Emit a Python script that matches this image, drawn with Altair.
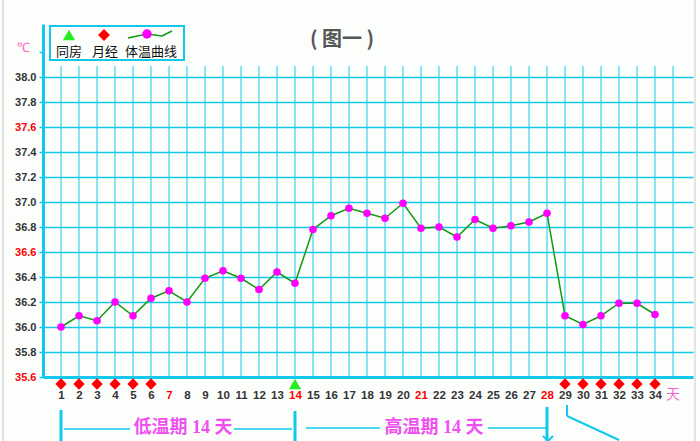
import altair as alt
import pandas as pd

# ---------------- data ----------------
days = list(range(1, 35))
temps = [36.00, 36.09, 36.05, 36.20, 36.09, 36.23, 36.29, 36.20, 36.39, 36.45,
         36.39, 36.30, 36.44, 36.35, 36.78, 36.89, 36.95, 36.91, 36.87, 36.99,
         36.79, 36.80, 36.72, 36.86, 36.79, 36.81, 36.84, 36.91, 36.09, 36.02,
         36.09, 36.19, 36.19, 36.10]
period_days = [1, 2, 3, 4, 5, 6, 29, 30, 31, 32, 33, 34]
intercourse_days = [14]
x_label_days = list(range(1, 36))
red_days = [7, 14, 21, 28]
y_ticks = [35.6, 35.8, 36.0, 36.2, 36.4, 36.6, 36.8, 37.0, 37.2, 37.4, 37.6, 37.8, 38.0, 38.2]
red_temps = [35.6, 36.6, 37.6]
legend_labels = ["同房", "月经", "体温曲线"]
title_text = "( 图一 )"
phase_labels = ["低温期 14 天", "高温期 14 天"]
unit_day = "天"
unit_temp = "℃"

# ---------------- styles ----------------
CYAN = "#14c8ec"
GREEN_LINE = "#119911"
MAGENTA = "#ff00ff"
RED = "#ff0000"
TRI_GREEN = "#22ee22"
PINK = "#ff66cc"
PHASE = "#f050f0"
DARK = "#333333"
BG = "#fcfefc"

W, H = 650, 353
xs = alt.Scale(domain=[0, 650 / 18], nice=False, zero=False)
ys = alt.Scale(domain=[35.6, 35.6 + 2.4 * H / 300], nice=False, zero=False)

one = pd.DataFrame({"k": [0]})
temp_df = pd.DataFrame({"day": days, "temp": temps})
grid_df = pd.DataFrame({"day": x_label_days})
period_df = pd.DataFrame({"day": period_days, "temp": [35.6] * len(period_days)})
sex_df = pd.DataFrame({"day": intercourse_days, "temp": [35.6] * len(intercourse_days)})

red_temp_test = " || ".join(f"abs(datum.value - {t}) < 0.01" for t in red_temps)
red_day_test = " || ".join(f"datum.value == {d}" for d in red_days)

y_axis = alt.Axis(
    values=y_ticks,
    title=None,
    labelExpr="datum.value > 38.1 ? '' : format(datum.value, '.1f')",
    labelColor={"condition": {"test": red_temp_test, "value": RED}, "value": DARK},
    labelFontSize=11,
    labelFont="Liberation Sans",
    labelFontWeight="bold",
    labelPadding=3,
    labelOverlap=False,
    labelFlush=False,
    tickSize=4,
    tickColor=CYAN,
    tickWidth=1.5,
    domainColor=CYAN,
    domainWidth=3,
    grid=True,
    gridColor=CYAN,
    gridWidth=1.5,
    gridOpacity={"condition": {"test": "datum.value > 38.1", "value": 0}, "value": 1},
)

x_axis = alt.Axis(
    values=x_label_days,
    title=None,
    labelExpr="datum.value == 35 ? '' : datum.label",
    labelColor={"condition": {"test": red_day_test, "value": RED}, "value": DARK},
    labelFontSize=11.5,
    labelFont="Liberation Sans",
    labelFontWeight="bold",
    labelPadding=12,
    labelFlush=False,
    labelOverlap=False,
    ticks=False,
    tickSize=0,
    domainColor=CYAN,
    domainWidth=3,
    grid=False,
)

X = alt.X("day:Q", scale=xs, axis=x_axis)
Y = alt.Y("temp:Q", scale=ys, axis=y_axis)

# vertical grid lines
vgrid = alt.Chart(grid_df).mark_rule(color=CYAN, strokeWidth=1).encode(
    x=X, y=alt.value(H), y2=alt.value(42),
)

line = alt.Chart(temp_df).mark_line(color=GREEN_LINE, strokeWidth=1.5).encode(x=X, y=Y)
pts = alt.Chart(temp_df).mark_circle(color=MAGENTA, size=58, opacity=1).encode(x=X, y=Y)

period = alt.Chart(period_df).mark_point(shape="diamond", filled=True, color=RED,
                                         size=130, opacity=1, yOffset=7).encode(x=X, y=Y)
sex = alt.Chart(sex_df).mark_point(shape="triangle-up", filled=True, color=TRI_GREEN,
                                   size=150, opacity=1, yOffset=7).encode(x=X, y=Y)


def seg(x1, y1, x2, y2, w=1.5, color=CYAN):
    return alt.Chart(one).mark_rule(color=color, strokeWidth=w).encode(
        x=alt.value(x1), x2=alt.value(x2), y=alt.value(y1), y2=alt.value(y2))


def vday(d, y1, y2, w=3):
    return alt.Chart(one).mark_rule(color=CYAN, strokeWidth=w).encode(
        x=alt.X(datum=d, scale=xs, axis=x_axis), y=alt.value(y1), y2=alt.value(y2))


def txt(s, x, y, size, color, weight="normal", font="Noto Sans CJK SC"):
    return alt.Chart(one).mark_text(text=s, fontSize=size, color=color, fontWeight=weight,
                                    font=font, align="center", baseline="middle").encode(
        x=alt.value(x), y=alt.value(y))


day_unit = alt.Chart(one).mark_text(text=unit_day, fontSize=14, color=PINK,
                                    font="Noto Sans CJK SC", align="center",
                                    baseline="middle").encode(
    x=alt.X(datum=35, scale=xs, axis=x_axis), y=alt.value(H + 18))
temp_unit = txt(unit_temp, -20, 24, 13, PINK, "normal", "Liberation Sans")

# legend box
legend_box = alt.Chart(one).mark_rect(fillOpacity=0, stroke=CYAN, strokeWidth=2).encode(
    x=alt.value(7), x2=alt.value(141), y=alt.value(2), y2=alt.value(36))
leg_tri = alt.Chart(one).mark_point(shape="triangle-up", filled=True, color=TRI_GREEN,
                                    size=150, opacity=1).encode(x=alt.value(26), y=alt.value(11))
leg_dia = alt.Chart(one).mark_point(shape="diamond", filled=True, color=RED,
                                    size=140, opacity=1).encode(x=alt.value(61), y=alt.value(11))
leg_line = [seg(85, 14, 104, 10, 1.5, GREEN_LINE), seg(104, 10, 119, 12, 1.5, GREEN_LINE),
            seg(119, 12, 129, 7, 1.5, GREEN_LINE)]
leg_pt = alt.Chart(one).mark_circle(color=MAGENTA, size=90, opacity=1).encode(
    x=alt.value(104), y=alt.value(10))
leg_txt = [txt(legend_labels[0], 26, 28, 13, "#111111"),
           txt(legend_labels[1], 62, 28, 13, "#111111"),
           txt(legend_labels[2], 108, 28, 13, "#111111")]

title = txt(title_text, 299, 16, 20, "#555555", "bold")

# phase annotations
ann = [
    vday(1, 386, 420), vday(14, 387, 420), vday(28, 383, 420),
    seg(21, 405, 87, 405), seg(191, 405, 249, 405),
    seg(263, 404, 337, 404), seg(445, 404, 505, 404),
    seg(500, 412, 505, 417, 2), seg(510, 412, 505, 417, 2),
    seg(524, 381, 524, 392, 2), seg(524, 392, 576, 416, 2),
    txt(phase_labels[0], 140, 404, 18, PHASE, "bold", "Liberation Serif, Noto Sans CJK SC"),
    txt(phase_labels[1], 391, 404, 18, PHASE, "bold", "Liberation Serif, Noto Sans CJK SC"),
]

frame = [seg(-40, -24, -40, 420, 1, "#c8c8c8"), seg(652, -24, 652, 420, 1, "#c8c8c8")]

chart = alt.layer(
    vgrid, line, pts, period, sex, day_unit, temp_unit,
    legend_box, leg_tri, leg_dia, *leg_line, leg_pt, *leg_txt,
    title, *ann, *frame,
).properties(
    width=W, height=H,
    autosize=alt.AutoSizeParams(type="none"),
    padding={"left": 43, "top": 24, "right": 7, "bottom": 64},
    background=BG,
).configure_view(stroke=None)

chart.save("out.html", embed_options={"renderer": "svg", "actions": False})
